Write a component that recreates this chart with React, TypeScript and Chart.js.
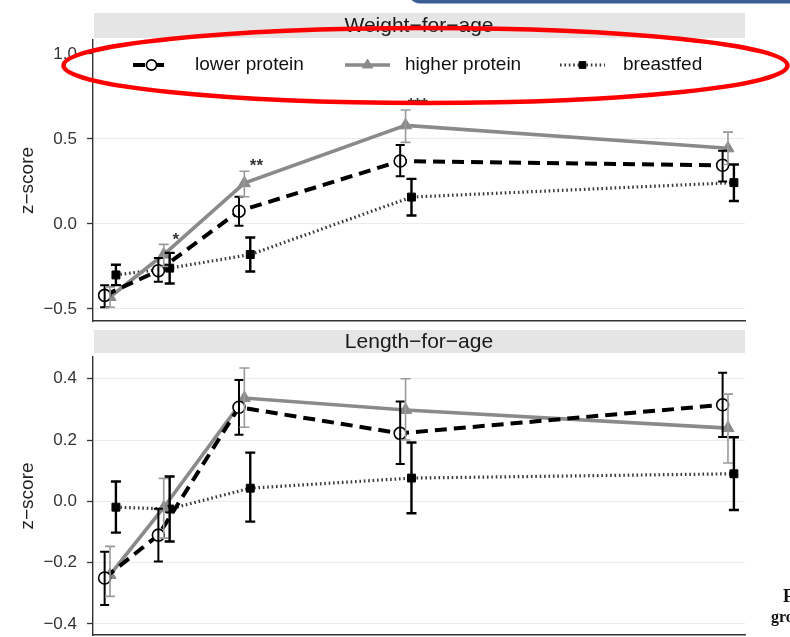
import React, { useEffect, useRef } from 'react';
import { Chart, registerables } from 'chart.js';

Chart.register(...registerables);

const FONT = "'Liberation Sans', Arial, Helvetica, sans-serif";
const SERIF = "'Liberation Serif', 'DejaVu Serif', serif";

// ---------- data ----------
const MONTHS = [1, 3, 6, 12, 24];
const SERIES_NAMES = ['lower protein', 'higher protein', 'breastfed'];
const PANEL_TITLES = ['Weight−for−age', 'Length−for−age'];
const Y_TITLE = 'z−score';

// Weight-for-age
const WFA_LOWER = [-0.42, -0.275, 0.075, 0.37, 0.345];
const WFA_LOWER_LO = [-0.49, -0.34, -0.01, 0.28, 0.25];
const WFA_LOWER_HI = [-0.36, -0.2, 0.16, 0.465, 0.43];
const WFA_HIGHER = [-0.43, -0.18, 0.24, 0.58, 0.445];
const WFA_HIGHER_LO = [-0.49, -0.25, 0.16, 0.48, 0.35];
const WFA_HIGHER_HI = [-0.37, -0.12, 0.31, 0.67, 0.54];
const WFA_BREAST = [-0.3, -0.26, -0.18, 0.158, 0.243];
const WFA_BREAST_LO = [-0.36, -0.35, -0.28, 0.05, 0.135];
const WFA_BREAST_HI = [-0.24, -0.17, -0.08, 0.265, 0.35];
const WFA_STARS = ['', '*', '**', '***', ''];
const WFA_TICKS = [-0.5, 0, 0.5, 1.0];

// Length-for-age
const LFA_LOWER = [-0.25, -0.11, 0.307, 0.222, 0.315];
const LFA_LOWER_LO = [-0.338, -0.196, 0.217, 0.122, 0.21];
const LFA_LOWER_HI = [-0.164, -0.024, 0.396, 0.326, 0.42];
const LFA_HIGHER = [-0.24, -0.02, 0.337, 0.298, 0.239];
const LFA_HIGHER_LO = [-0.31, -0.12, 0.242, 0.2, 0.125];
const LFA_HIGHER_HI = [-0.147, 0.075, 0.435, 0.4, 0.35];
const LFA_BREAST = [-0.019, -0.025, 0.043, 0.076, 0.09];
const LFA_BREAST_LO = [-0.102, -0.131, -0.066, -0.039, -0.028];
const LFA_BREAST_HI = [0.065, 0.081, 0.159, 0.192, 0.209];
const LFA_TICKS = [-0.4, -0.2, 0, 0.2, 0.4];

// ---------- layout / style ----------
const X_MIN = 0.367;
const X_MAX = 24.633;
const DODGE = [-0.2, 0, 0.22];
const WFA_RANGE = [-0.571, 1.082];
const LFA_RANGE = [-0.436, 0.471];

const STYLES = [
  {
    borderColor: '#000', borderWidth: 4, borderDash: [12, 7],
    pointStyle: 'circle', pointRadius: 6, pointBackgroundColor: '#fff',
    pointBorderColor: '#000', pointBorderWidth: 1.6,
    errColor: '#000', errWidth: 2, errCap: 4.5,
  },
  {
    borderColor: '#8a8a8a', borderWidth: 3.6, borderDash: [],
    pointStyle: 'triangle', pointRadius: 7, pointBackgroundColor: '#8a8a8a',
    pointBorderColor: '#8a8a8a', pointBorderWidth: 1,
    errColor: '#9a9a9a', errWidth: 1.6, errCap: 5,
  },
  {
    borderColor: '#3a3a3a', borderWidth: 3.2, borderDash: [1.6, 2.8],
    pointStyle: 'rect', pointRadius: 5.6, pointBackgroundColor: '#000',
    pointBorderColor: '#000', pointBorderWidth: 1,
    errColor: '#000', errWidth: 2.4, errCap: 5,
  },
];

function buildDatasets(groups: number[][][]) {
  return groups.map(([vals, lo, hi], k) => ({
    label: SERIES_NAMES[k],
    data: vals.map((v, i) => ({ x: MONTHS[i] + DODGE[k], y: v })),
    errLo: lo,
    errHi: hi,
    tension: 0,
    fill: false,
    ...STYLES[k],
  }));
}

const fmtTick = (v: any) => Number(v).toFixed(1).replace('-', '−');

function drawMarker(ctx: CanvasRenderingContext2D, ds: any, x: number, y: number) {
  const r = ds.pointRadius;
  ctx.save();
  ctx.setLineDash([]);
  ctx.fillStyle = ds.pointBackgroundColor;
  ctx.strokeStyle = ds.pointBorderColor;
  ctx.lineWidth = ds.pointBorderWidth;
  ctx.beginPath();
  if (ds.pointStyle === 'circle') {
    ctx.arc(x, y, r, 0, Math.PI * 2);
  } else if (ds.pointStyle === 'triangle') {
    let rad = 0;
    ctx.moveTo(x + Math.sin(rad) * r, y - Math.cos(rad) * r);
    rad += (2 * Math.PI) / 3;
    ctx.lineTo(x + Math.sin(rad) * r, y - Math.cos(rad) * r);
    rad += (2 * Math.PI) / 3;
    ctx.lineTo(x + Math.sin(rad) * r, y - Math.cos(rad) * r);
    ctx.closePath();
  } else {
    const s = r * Math.SQRT1_2;
    ctx.rect(x - s, y - s, 2 * s, 2 * s);
  }
  ctx.fill();
  ctx.stroke();
  ctx.restore();
}

const errorBarPlugin = {
  id: 'errorBars',
  afterDatasetsDraw(chart: any) {
    const { ctx, scales } = chart;
    const xs = scales.x;
    const ys = scales.y;
    chart.data.datasets.forEach((ds: any) => {
      ctx.save();
      ctx.strokeStyle = ds.errColor;
      ctx.lineWidth = ds.errWidth;
      ctx.setLineDash([]);
      ds.data.forEach((p: any, i: number) => {
        const px = xs.getPixelForValue(p.x);
        const y1 = ys.getPixelForValue(ds.errLo[i]);
        const y2 = ys.getPixelForValue(ds.errHi[i]);
        const c = ds.errCap;
        ctx.beginPath();
        ctx.moveTo(px, y1);
        ctx.lineTo(px, y2);
        ctx.moveTo(px - c, y1);
        ctx.lineTo(px + c, y1);
        ctx.moveTo(px - c, y2);
        ctx.lineTo(px + c, y2);
        ctx.stroke();
      });
      ctx.restore();
    });
  },
};

function stripPlugin(title: string, top: number, bottom: number) {
  return {
    id: 'strip',
    beforeDraw(chart: any) {
      const { ctx, chartArea } = chart;
      ctx.save();
      ctx.fillStyle = '#e5e5e5';
      ctx.fillRect(chartArea.left + 1, top, chartArea.right - chartArea.left - 1, bottom - top);
      ctx.fillStyle = '#1a1a1a';
      ctx.font = `21px ${FONT}`;
      ctx.textAlign = 'center';
      ctx.textBaseline = 'middle';
      ctx.fillText(title, (chartArea.left + chartArea.right) / 2, (top + bottom) / 2 + 1);
      ctx.restore();
    },
  };
}

const legendPlugin = {
  id: 'insideLegend',
  beforeDatasetsDraw(chart: any) {
    const { ctx, chartArea } = chart;
    ctx.save();
    ctx.fillStyle = '#fff';
    ctx.fillRect(chartArea.left + 1, 44, chartArea.right - chartArea.left - 1, 42);
    ctx.restore();
  },
  afterDraw(chart: any) {
    const { ctx } = chart;
    const items = [
      { x0: 133, x1: 170, tx: 195 },
      { x0: 345, x1: 390, tx: 405 },
      { x0: 560, x1: 605, tx: 623 },
    ];
    const y = 65;
    chart.data.datasets.forEach((ds: any, k: number) => {
      const it = items[k];
      ctx.save();
      ctx.strokeStyle = ds.borderColor;
      ctx.lineWidth = ds.borderWidth;
      ctx.setLineDash(ds.borderDash || []);
      ctx.beginPath();
      ctx.moveTo(it.x0, y);
      ctx.lineTo(it.x1, y);
      ctx.stroke();
      ctx.restore();
      const legendDs = { ...ds, pointRadius: ds.pointRadius * 0.85 };
      drawMarker(ctx, legendDs, (it.x0 + it.x1) / 2, y);
      ctx.save();
      ctx.fillStyle = '#111';
      ctx.font = `19px ${FONT}`;
      ctx.textAlign = 'left';
      ctx.textBaseline = 'middle';
      ctx.fillText(ds.label, it.tx, y);
      ctx.restore();
    });
  },
};

const starsPlugin = {
  id: 'stars',
  afterDatasetsDraw(chart: any) {
    const { ctx, scales } = chart;
    ctx.save();
    ctx.fillStyle = '#333';
    ctx.font = `bold 17px ${FONT}`;
    ctx.textAlign = 'center';
    ctx.textBaseline = 'middle';
    WFA_STARS.forEach((s, i) => {
      if (!s) return;
      const px = scales.x.getPixelForValue(MONTHS[i] + 0.45);
      const py = scales.y.getPixelForValue(WFA_HIGHER_HI[i] + 0.05);
      ctx.fillText(s, px, py + 4);
    });
    ctx.restore();
  },
};

const annotationPlugin = {
  id: 'annot',
  afterDraw(chart: any) {
    const { ctx } = chart;
    ctx.save();
    // blue box edge at top right
    ctx.fillStyle = '#3b5f95';
    ctx.beginPath();
    (ctx as any).roundRect(408, -30, 400, 33.5, 12);
    ctx.fill();
    // red ellipse
    ctx.strokeStyle = '#ff0000';
    ctx.lineWidth = 4.5;
    ctx.beginPath();
    ctx.ellipse(425.5, 65.5, 362, 37.5, 0, 0, Math.PI * 2);
    ctx.stroke();
    ctx.restore();
  },
};

const captionPlugin = {
  id: 'caption',
  afterDraw(chart: any) {
    const { ctx } = chart;
    ctx.save();
    ctx.fillStyle = '#111';
    ctx.textAlign = 'left';
    ctx.textBaseline = 'alphabetic';
    ctx.font = `bold 18px ${SERIF}`;
    ctx.fillText('F', 783, 276);
    ctx.font = `bold 16px ${SERIF}`;
    ctx.fillText('growth', 771, 296);
    ctx.restore();
  },
};

function makeConfig(datasets: any[], range: number[], ticks: number[], padding: any, plugins: any[]) {
  return {
    type: 'line' as const,
    data: { datasets },
    options: {
      responsive: false,
      animation: false as const,
      events: [] as any[],
      layout: { padding, autoPadding: false },
      plugins: { legend: { display: false }, tooltip: { enabled: false } },
      scales: {
        x: {
          type: 'linear' as const,
          min: X_MIN,
          max: X_MAX,
          ticks: { display: false },
          grid: { display: false, drawTicks: false },
          border: { display: true, color: '#333', width: 1.4 },
          afterFit: (s: any) => {
            s.height = 0;
            s.paddingLeft = 0;
            s.paddingRight = 0;
            s.paddingTop = 0;
            s.paddingBottom = 0;
          },
        },
        y: {
          type: 'linear' as const,
          min: range[0],
          max: range[1],
          afterBuildTicks: (s: any) => { s.ticks = ticks.map((v) => ({ value: v })); },
          afterFit: (s: any) => {
            s.width = 93;
            s.paddingTop = 0;
            s.paddingBottom = 0;
            s.paddingLeft = 0;
            s.paddingRight = 0;
          },
          ticks: {
            font: { size: 17, family: FONT },
            color: '#333',
            padding: 10,
            callback: fmtTick,
          },
          grid: { color: '#ebebeb', lineWidth: 1, tickColor: '#333', tickLength: 6, tickWidth: 1.3 },
          border: { display: true, color: '#333', width: 1.4 },
          title: {
            display: true,
            text: Y_TITLE,
            font: { size: 19, family: FONT },
            color: '#222',
            padding: { top: 16, bottom: 0 },
          },
        },
      },
    },
    plugins,
  };
}

export default function App() {
  const topRef = useRef<HTMLCanvasElement>(null);
  const botRef = useRef<HTMLCanvasElement>(null);

  useEffect(() => {
    Chart.defaults.font.family = FONT;
    const wfa = buildDatasets([
      [WFA_LOWER, WFA_LOWER_LO, WFA_LOWER_HI],
      [WFA_HIGHER, WFA_HIGHER_LO, WFA_HIGHER_HI],
      [WFA_BREAST, WFA_BREAST_LO, WFA_BREAST_HI],
    ]);
    const lfa = buildDatasets([
      [LFA_LOWER, LFA_LOWER_LO, LFA_LOWER_HI],
      [LFA_HIGHER, LFA_HIGHER_LO, LFA_HIGHER_HI],
      [LFA_BREAST, LFA_BREAST_LO, LFA_BREAST_HI],
    ]);
    const c1 = new Chart(
      topRef.current as HTMLCanvasElement,
      makeConfig(wfa, WFA_RANGE, WFA_TICKS, { left: 0, right: 45, top: 40, bottom: 5 }, [
        stripPlugin(PANEL_TITLES[0], 13, 38),
        legendPlugin,
        errorBarPlugin,
        starsPlugin,
        annotationPlugin,
      ]) as any
    );
    const c2 = new Chart(
      botRef.current as HTMLCanvasElement,
      makeConfig(lfa, LFA_RANGE, LFA_TICKS, { left: 0, right: 45, top: 31, bottom: 2 }, [
        stripPlugin(PANEL_TITLES[1], 4, 27),
        errorBarPlugin,
        captionPlugin,
      ]) as any
    );
    return () => {
      c1.destroy();
      c2.destroy();
    };
  }, []);

  return (
    <div style={{ position: 'absolute', left: 0, top: 0, width: 790, height: 637, background: '#fff', overflow: 'hidden' }}>
      <canvas ref={topRef} width={790} height={326} style={{ position: 'absolute', left: 0, top: 0, display: 'block' }} />
      <canvas ref={botRef} width={790} height={311} style={{ position: 'absolute', left: 0, top: 326, display: 'block' }} />
    </div>
  );
}
